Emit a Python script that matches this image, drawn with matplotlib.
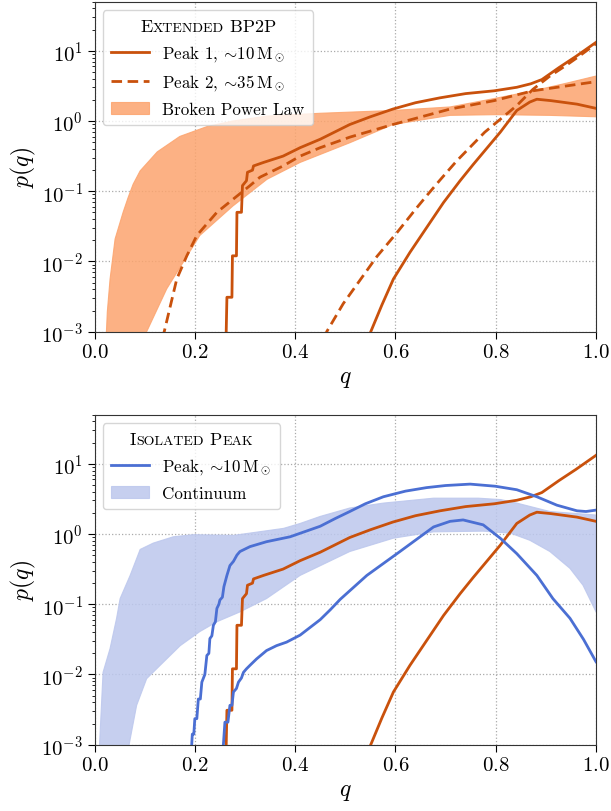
import numpy as np
import matplotlib
matplotlib.use("Agg")
import matplotlib.pyplot as plt
from matplotlib.offsetbox import HPacker, TextArea

plt.rcParams['font.family'] = 'serif'
plt.rcParams['font.serif'] = ['cmr10', 'DejaVu Serif']
plt.rcParams['mathtext.fontset'] = 'cm'
plt.rcParams['axes.formatter.use_mathtext'] = True

ORANGE = '#c9510c'
ORANGE_FILL = '#fca46e'
BLUE = '#4b6fd3'
BLUE_FILL = '#bcc7ed'

# --- Peak 1 (~10 Msun), extended BP2P model; same curve shown in both panels ---
peak1_hi_q = [0.262, 0.264, 0.274, 0.275, 0.283, 0.284, 0.293, 0.295, 0.303, 0.305,
              0.315, 0.317, 0.337, 0.376, 0.410, 0.450, 0.509, 0.550, 0.595, 0.640,
              0.689, 0.740, 0.797, 0.842, 0.870, 0.892, 0.926, 0.960, 1.0]
peak1_hi_logp = [-3.2, -2.51, -2.51, -1.92, -1.92, -1.30, -1.30, -0.92, -0.85, -0.73,
                 -0.70, -0.64, -0.59, -0.50, -0.38, -0.26, -0.05, 0.06, 0.17, 0.26,
                 0.33, 0.39, 0.43, 0.48, 0.53, 0.59, 0.76, 0.92, 1.12]
peak1_lo_q = [0.545, 0.573, 0.596, 0.629, 0.662, 0.696, 0.729, 0.755, 0.809, 0.842,
              0.868, 0.882, 0.910, 0.962, 1.0]
peak1_lo_logp = [-3.1, -2.62, -2.25, -1.87, -1.52, -1.16, -0.85, -0.62, -0.16, 0.15,
                 0.27, 0.31, 0.29, 0.24, 0.18]

# --- Peak 2 (~35 Msun) ---
peak2_hi_q = [0.135, 0.139, 0.164, 0.184, 0.204, 0.244, 0.277, 0.310, 0.330, 0.376,
              0.410, 0.450, 0.509, 0.595, 0.709, 0.797, 0.874, 1.0]
peak2_hi_logp = [-3.1, -3.0, -2.25, -1.92, -1.63, -1.30, -1.11, -0.92, -0.80, -0.64,
                 -0.50, -0.38, -0.23, -0.05, 0.17, 0.29, 0.43, 0.56]
peak2_lo_q = [0.458, 0.463, 0.496, 0.529, 0.563, 0.603, 0.642, 0.664, 0.689, 0.722,
              0.778, 0.842, 0.874, 0.908, 0.942, 0.962, 1.0]
peak2_lo_logp = [-3.1, -3.0, -2.60, -2.27, -1.93, -1.59, -1.24, -1.05, -0.84, -0.57,
                 -0.16, 0.22, 0.45, 0.64, 0.80, 0.90, 1.10]

# --- Broken power law band ---
bpl_up_q = [0.0225, 0.0255, 0.031, 0.041, 0.057, 0.067, 0.077, 0.091, 0.125, 0.170,
            0.224, 0.276, 0.344, 0.450, 0.595, 0.709, 0.797, 0.875, 0.942, 1.0]
bpl_up_logp = [-3.2, -2.72, -2.25, -1.68, -1.30, -1.09, -0.90, -0.71, -0.44, -0.22,
               -0.08, 0.0, 0.07, 0.11, 0.15, 0.20, 0.32, 0.43, 0.54, 0.64]
bpl_lo_q = [0.098, 0.104, 0.144, 0.177, 0.210, 0.276, 0.344, 0.410, 0.509, 0.595,
            0.709, 0.800, 0.908, 1.0]
bpl_lo_logp = [-3.2, -3.0, -2.39, -2.01, -1.63, -1.21, -0.83, -0.59, -0.31, -0.05,
               0.08, 0.09, 0.08, 0.06]

# --- Isolated peak (~10 Msun) ---
iso_hi_q = [0.193, 0.195, 0.198, 0.200, 0.204, 0.207, 0.211, 0.214, 0.220, 0.224,
            0.228, 0.230, 0.234, 0.237, 0.241, 0.244, 0.248, 0.250, 0.255, 0.258,
            0.264, 0.270, 0.277, 0.284, 0.290, 0.310, 0.343, 0.390, 0.410, 0.450,
            0.480, 0.509, 0.540, 0.576, 0.620, 0.662, 0.700, 0.749, 0.799, 0.842,
            0.882, 0.922, 0.962, 0.980, 1.0]
iso_hi_logp = [-3.1, -2.85, -2.85, -2.63, -2.63, -2.35, -2.35, -2.11, -2.0, -1.73,
               -1.70, -1.49, -1.45, -1.30, -1.25, -1.06, -1.0, -0.94, -0.90, -0.75,
               -0.59, -0.45, -0.39, -0.30, -0.25, -0.18, -0.11, -0.04, 0.01, 0.11,
               0.22, 0.32, 0.43, 0.53, 0.61, 0.66, 0.69, 0.71, 0.68, 0.63,
               0.53, 0.41, 0.33, 0.32, 0.34]
iso_lo_q = [0.256, 0.260, 0.266, 0.270, 0.274, 0.277, 0.283, 0.287, 0.293, 0.297,
            0.303, 0.310, 0.323, 0.343, 0.363, 0.383, 0.410, 0.450, 0.470, 0.490,
            0.543, 0.609, 0.676, 0.709, 0.735, 0.775, 0.809, 0.842, 0.882, 0.914,
            0.948, 0.975, 1.0]
iso_lo_logp = [-3.1, -2.68, -2.68, -2.44, -2.44, -2.25, -2.20, -2.11, -2.05, -1.97,
               -1.92, -1.87, -1.78, -1.66, -1.59, -1.54, -1.44, -1.22, -1.08, -0.93,
               -0.59, -0.25, 0.10, 0.18, 0.20, 0.13, -0.06, -0.28, -0.59, -0.92,
               -1.20, -1.50, -1.82]

# --- Continuum band ---
cont_up_q = [0.008, 0.010, 0.017, 0.031, 0.044, 0.051, 0.071, 0.091, 0.117, 0.157,
             0.197, 0.277, 0.377, 0.410, 0.450, 0.509, 0.576, 0.676, 0.765, 0.810,
             0.842, 0.908, 1.0]
cont_up_logp = [-3.2, -3.0, -1.97, -1.63, -1.20, -0.92, -0.59, -0.22, -0.13, -0.04,
                -0.01, -0.02, 0.08, 0.15, 0.25, 0.37, 0.44, 0.51, 0.51, 0.49,
                0.44, 0.32, 0.27]
cont_lo_q = [0.066, 0.069, 0.084, 0.104, 0.131, 0.171, 0.210, 0.244, 0.290, 0.343,
             0.410, 0.509, 0.596, 0.676, 0.775, 0.830, 0.868, 0.908, 0.948, 0.974, 1.0]
cont_lo_logp = [-3.2, -3.0, -2.44, -2.06, -1.87, -1.59, -1.39, -1.25, -1.11, -0.92,
                -0.59, -0.25, -0.06, 0.03, 0.04, 0.01, -0.09, -0.25, -0.49, -0.73, -1.11]


def p(logp):
    return 10.0 ** np.asarray(logp)


def band(ax, up_q, up_logp, lo_q, lo_logp, color, label):
    xs = list(up_q) + list(lo_q)[::-1]
    ys = list(p(up_logp)) + list(p(lo_logp))[::-1]
    return ax.fill(xs, ys, facecolor=color, edgecolor=color, lw=0.8,
                   alpha=0.85, label=label, zorder=1)[0]


def smallcaps_title(leg, parts, big=13, small=10):
    # legend title in small caps: big first letters, small capitals for the rest
    boxes = [TextArea(t, textprops=dict(fontsize=big if b else small))
             for t, b in parts]
    hp = HPacker(children=boxes, align='baseline', pad=0, sep=0)
    hp.set_figure(leg.figure)
    leg._legend_box._children[0] = hp


def style_axes(ax):
    ax.set_yscale('log')
    ax.set_xlim(0, 1)
    ax.set_ylim(1e-3, 50)
    ax.set_axisbelow(True)
    ax.grid(True, which='major', ls=':', color='#aaaaaa', lw=0.9)
    ax.set_xticks([0.0, 0.2, 0.4, 0.6, 0.8, 1.0])
    ax.tick_params(labelsize=15, which='major', length=5)
    ax.set_xlabel('$q$', fontsize=17)
    ax.set_ylabel('$p(q)$', fontsize=17, labelpad=2)
    for s in ax.spines.values():
        s.set_color('#333333')


fig = plt.figure(figsize=(6.11, 8.12), dpi=100)
ax1 = fig.add_axes([0.1547, 0.5903, 0.8208, 0.4064])
ax2 = fig.add_axes([0.1547, 0.0817, 0.8208, 0.4064])

lw = 2.0
dash = (3.8, 2.0)
leg_kw = dict(loc='upper left', fontsize=12.2, title=' ', handlelength=2.2,
              borderaxespad=0.5, labelspacing=0.55, borderpad=0.5)

# top panel
l1, = ax1.plot(peak1_hi_q, p(peak1_hi_logp), color=ORANGE, lw=lw,
               label=r'Peak 1, $\!\sim\!10\,\mathrm{M}_\odot$', zorder=3)
ax1.plot(peak1_lo_q, p(peak1_lo_logp), color=ORANGE, lw=lw, zorder=3)
l2, = ax1.plot(peak2_hi_q, p(peak2_hi_logp), color=ORANGE, lw=lw, ls='--', dashes=dash,
               label=r'Peak 2, $\!\sim\!35\,\mathrm{M}_\odot$', zorder=3)
ax1.plot(peak2_lo_q, p(peak2_lo_logp), color=ORANGE, lw=lw, ls='--', dashes=dash,
         zorder=3)
b1 = band(ax1, bpl_up_q, bpl_up_logp, bpl_lo_q, bpl_lo_logp, ORANGE_FILL,
          'Broken Power Law')
style_axes(ax1)
leg1 = ax1.legend(handles=[l1, l2, b1], **leg_kw)
smallcaps_title(leg1, [('E', True), ('XTENDED', False), (' BP2P', True)])

# bottom panel
ax2.plot(peak1_hi_q, p(peak1_hi_logp), color=ORANGE, lw=lw, zorder=3)
ax2.plot(peak1_lo_q, p(peak1_lo_logp), color=ORANGE, lw=lw, zorder=3)
l3, = ax2.plot(iso_hi_q, p(iso_hi_logp), color=BLUE, lw=lw,
               label=r'Peak, $\!\sim\!10\,\mathrm{M}_\odot$', zorder=3)
ax2.plot(iso_lo_q, p(iso_lo_logp), color=BLUE, lw=lw, zorder=3)
b2 = band(ax2, cont_up_q, cont_up_logp, cont_lo_q, cont_lo_logp, BLUE_FILL,
          'Continuum')
style_axes(ax2)
leg2 = ax2.legend(handles=[l3, b2], **leg_kw)
smallcaps_title(leg2, [('I', True), ('SOLATED', False), (' P', True), ('EAK', False)])

fig.savefig('out.png', dpi=100)
